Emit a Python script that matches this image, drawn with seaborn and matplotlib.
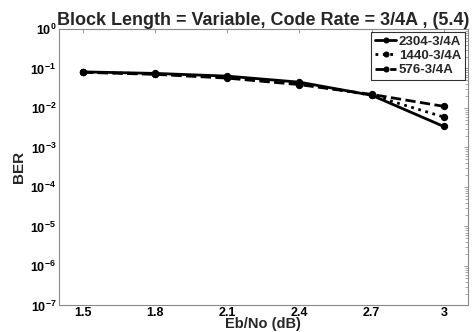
import matplotlib
matplotlib.use("Agg")
import matplotlib.pyplot as plt
import seaborn as sns
import numpy as np
import pandas as pd
from matplotlib.ticker import FixedLocator, NullFormatter, LogFormatterSciNotation

sns.set_theme(style="white")
plt.rcParams['font.family'] = ['Liberation Sans', 'DejaVu Sans']
plt.rcParams['font.weight'] = 'bold'
plt.rcParams['mathtext.fontset'] = 'custom'
plt.rcParams['mathtext.rm'] = 'Liberation Sans:bold'
plt.rcParams['mathtext.bf'] = 'Liberation Sans:bold'
plt.rcParams['mathtext.default'] = 'bf'

ebno = [1.5, 1.8, 2.1, 2.4, 2.7, 3.0]
ber_2304 = [0.082, 0.075, 0.064, 0.045, 0.021, 0.0034]
ber_1440 = [0.081, 0.073, 0.060, 0.042, 0.021, 0.0059]
ber_576 = [0.080, 0.071, 0.057, 0.039, 0.022, 0.011]
labels = ["2304-3/4A", "1440-3/4A", "576-3/4A"]
styles = ["-", ":", "--"]
xticks = [1.5, 1.8, 2.1, 2.4, 2.7, 3]
xticklabels = ["1.5", "1.8", "2.1", "2.4", "2.7", "3"]
yticks = [1e-7, 1e-6, 1e-5, 1e-4, 1e-3, 1e-2, 1e-1, 1e0]

df = pd.concat([
    pd.DataFrame({"ebno": ebno, "ber": b, "series": l})
    for b, l in zip([ber_2304, ber_1440, ber_576], labels)
])

fig = plt.figure(figsize=(4.74, 3.32), dpi=100)
ax = fig.add_axes([0.1245, 0.08, 0.8625, 0.8327])

for l, ls in zip(labels, styles):
    sub = df[df["series"] == l]
    sns.lineplot(data=sub, x="ebno", y="ber", ax=ax, color="black",
                 linestyle=ls, linewidth=2, marker="o", markersize=4.5,
                 markeredgecolor="black", label=l)

ax.set_yscale("log")
ax.set_ylim(1e-7, 1)
ax.set_xlim(1.4, 3.1)
ax.set_xticks(xticks)
ax.set_xticklabels(xticklabels, fontweight="bold")
ax.yaxis.set_major_locator(FixedLocator(yticks))
ax.yaxis.set_major_formatter(LogFormatterSciNotation())
minor = [m * 10.0 ** e for e in range(-7, 0) for m in range(2, 10)]
ax.yaxis.set_minor_locator(FixedLocator(minor))
ax.yaxis.set_minor_formatter(NullFormatter())
ax.tick_params(axis="both", which="both", direction="in", top=True, right=True,
               labelsize=9, colors="black")
ax.tick_params(which="major", length=3, width=0.6, color="#888888")
ax.tick_params(which="minor", length=2, width=0.5, color="#888888")
ax.tick_params(axis="y", labelcolor="black", pad=2)
ax.tick_params(axis="x", labelcolor="black", pad=1)
for s in ax.spines.values():
    s.set_color("#888888")
    s.set_linewidth(0.8)

ax.set_xlabel("Eb/No (dB)", fontsize=10.5, fontweight="bold", labelpad=-1)
ax.set_ylabel("BER", fontsize=11, fontweight="bold", labelpad=3)
ax.set_title("Block Length = Variable, Code Rate = 3/4A , (5.4)",
             fontsize=13, fontweight="bold", pad=3)

leg = ax.legend(loc="upper right", fontsize=9.5, frameon=True, fancybox=False,
                edgecolor="black", handlelength=1.6, handletextpad=0.2,
                borderpad=0.3, labelspacing=0.15, borderaxespad=0.2,
                markerscale=0.8)
leg.get_frame().set_linewidth(0.8)
for t in leg.get_texts():
    t.set_fontweight("bold")

fig.savefig("out.png", dpi=100)
